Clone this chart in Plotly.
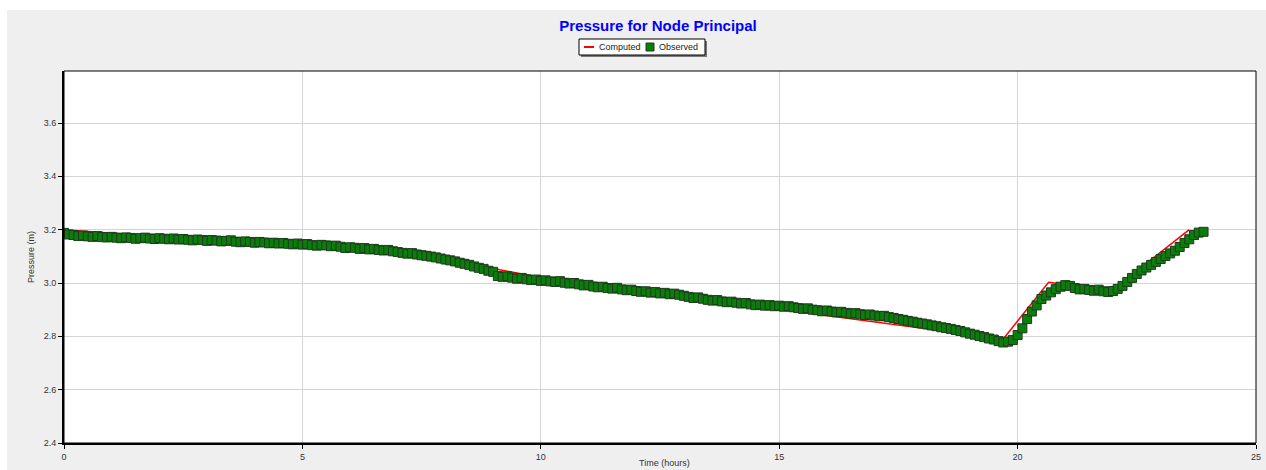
import plotly.graph_objects as go

# ---- data ----
comp_t = [0.0, 7.7, 10.0, 16.5, 19.7, 20.65, 20.85, 22.0, 23.6]
comp_p = [3.200, 3.100, 3.020, 2.865, 2.790, 3.003, 2.998, 2.975, 3.200]

obs_t = [round(i * 0.1, 1) for i in range(240)]
obs_p = [
    3.188, 3.182, 3.180, 3.176, 3.178, 3.175, 3.173, 3.176, 3.172, 3.171,
    3.173, 3.170, 3.168, 3.171, 3.169, 3.166, 3.168, 3.170, 3.167, 3.165,
    3.168, 3.166, 3.164, 3.167, 3.163, 3.165, 3.162, 3.160, 3.163, 3.161,
    3.158, 3.161, 3.159, 3.156, 3.158, 3.160, 3.155, 3.153, 3.156, 3.154,
    3.151, 3.154, 3.152, 3.149, 3.151, 3.148, 3.150, 3.147, 3.145, 3.148,
    3.144, 3.146, 3.142, 3.140, 3.143, 3.141, 3.138, 3.140, 3.136, 3.131,
    3.134, 3.132, 3.128, 3.131, 3.126, 3.128, 3.124, 3.122, 3.124, 3.119,
    3.116, 3.113, 3.110, 3.112, 3.107, 3.104, 3.102, 3.099, 3.096, 3.092,
    3.088, 3.085, 3.081, 3.076, 3.072, 3.068, 3.062, 3.057, 3.053, 3.046,
    3.042, 3.026, 3.023, 3.025, 3.020, 3.016, 3.019, 3.014, 3.011, 3.013,
    3.008, 3.010, 3.006, 3.004, 3.007, 3.001, 2.998, 3.000, 2.995, 2.991,
    2.993, 2.987, 2.984, 2.986, 2.981, 2.979, 2.982, 2.976, 2.973, 2.975,
    2.970, 2.967, 2.969, 2.964, 2.966, 2.961, 2.963, 2.958, 2.960, 2.956,
    2.952, 2.948, 2.944, 2.946, 2.941, 2.937, 2.934, 2.936, 2.931, 2.928,
    2.930, 2.926, 2.923, 2.925, 2.920, 2.917, 2.919, 2.915, 2.917, 2.913,
    2.915, 2.911, 2.913, 2.909, 2.906, 2.903, 2.905, 2.900, 2.898, 2.894,
    2.897, 2.893, 2.890, 2.892, 2.888, 2.885, 2.887, 2.883, 2.880, 2.882,
    2.878, 2.875, 2.877, 2.872, 2.869, 2.865, 2.862, 2.858, 2.855, 2.851,
    2.848, 2.845, 2.841, 2.838, 2.834, 2.831, 2.828, 2.824, 2.820, 2.815,
    2.810, 2.806, 2.801, 2.797, 2.792, 2.788, 2.782, 2.777, 2.780, 2.786,
    2.805, 2.830, 2.865, 2.893, 2.916, 2.940, 2.953, 2.965, 2.977, 2.986,
    2.992, 2.989, 2.981, 2.976, 2.978, 2.974, 2.971, 2.975, 2.969, 2.966,
    2.970, 2.978, 2.989, 3.004, 3.019, 3.034, 3.047, 3.058, 3.068, 3.079,
    3.090, 3.101, 3.111, 3.121, 3.135, 3.150, 3.164, 3.180, 3.189, 3.192,
]

x_ticks = [0, 5, 10, 15, 20, 25]
y_ticks = [2.4, 2.6, 2.8, 3.0, 3.2, 3.4, 3.6]
y_tick_text = ["2.4", "2.6", "2.8", "3.0", "3.2", "3.4", "3.6"]

# ---- layout geometry (pixels) ----
W, H = 1266, 470
L, R, T, B = 64, 1256, 71, 443
pw, ph = R - L, B - T

def px(x):
    return (x - L) / pw

def py(y):
    return (B - y) / ph

FONT = "Liberation Sans, Arial, sans-serif"

fig = go.Figure()
fig.add_trace(go.Scatter(
    x=comp_t, y=comp_p, mode="lines", name="Computed",
    line=dict(color="#ff0000", width=1.5),
))
fig.add_trace(go.Scatter(
    x=obs_t, y=obs_p, mode="markers", name="Observed",
    marker=dict(symbol="square", size=9, color="#0a7d0a",
                line=dict(color="#1f3a1f", width=1)),
))

shapes = [
    # grey panel
    dict(type="rect", xref="paper", yref="paper", layer="below",
         x0=px(7), x1=px(1266), y0=py(470), y1=py(10),
         fillcolor="#efefef", line=dict(width=0)),
    # white plot area
    dict(type="rect", xref="paper", yref="paper", layer="below",
         x0=0, x1=1, y0=0, y1=1,
         fillcolor="#ffffff", line=dict(width=0)),
    # plot frame
    dict(type="rect", xref="paper", yref="paper", layer="above",
         x0=0, x1=1, y0=0, y1=1, line=dict(color="#000000", width=1)),
    # legend shadow
    dict(type="rect", xref="paper", yref="paper", layer="above",
         x0=px(581), x1=px(707), y0=py(57), y1=py(41),
         fillcolor="#7a7a7a", line=dict(width=0)),
    # legend box
    dict(type="rect", xref="paper", yref="paper", layer="above",
         x0=px(579), x1=px(705), y0=py(55), y1=py(39),
         fillcolor="#ffffff", line=dict(color="#000000", width=1)),
    # legend: computed line sample
    dict(type="line", xref="paper", yref="paper", layer="above",
         x0=px(584), x1=px(594), y0=py(47), y1=py(47),
         line=dict(color="#ff0000", width=2)),
    # legend: observed marker sample
    dict(type="rect", xref="paper", yref="paper", layer="above",
         x0=px(646), x1=px(654), y0=py(51), y1=py(43),
         fillcolor="#0a7d0a", line=dict(color="#1f3a1f", width=1)),
]

fig.update_layout(
    width=W, height=H,
    margin=dict(l=L, r=W - R, t=T, b=H - B, pad=0),
    paper_bgcolor="#ffffff",
    plot_bgcolor="#ffffff",
    font=dict(family=FONT, size=9, color="#333333"),
    title=dict(text="<b>Pressure for Node Principal</b>",
               font=dict(family=FONT, size=15, color="#0000ff"),
               x=px(658), xref="paper", xanchor="center",
               y=1 - 26 / H, yref="container", yanchor="middle"),
    showlegend=False,
    xaxis=dict(range=[0, 25], tickvals=x_ticks, automargin=False,
               showgrid=True, gridcolor="#d4d4d4", gridwidth=1,
               zeroline=False, showline=True, linecolor="#000000", linewidth=2,
               ticks="outside", ticklen=4, tickcolor="#000000", tickwidth=1,
               tickfont=dict(family=FONT, size=9, color="#333333")),
    yaxis=dict(range=[2.4, 3.795], tickvals=y_ticks, ticktext=y_tick_text,
               automargin=False,
               showgrid=True, gridcolor="#d4d4d4", gridwidth=1,
               zeroline=False, showline=True, linecolor="#000000", linewidth=2,
               ticks="outside", ticklen=4, tickcolor="#000000", tickwidth=1,
               tickfont=dict(family=FONT, size=9, color="#333333")),
    shapes=shapes,
    annotations=[
        dict(text="Pressure (m)", xref="paper", yref="paper",
             x=px(31), y=py(257), xanchor="center", yanchor="middle",
             textangle=-90, showarrow=False,
             font=dict(family=FONT, size=9, color="#333333")),
        dict(text="Time (hours)", xref="paper", yref="paper",
             x=px(664), y=py(463), xanchor="center", yanchor="middle",
             showarrow=False,
             font=dict(family=FONT, size=9, color="#333333")),
        dict(text="Computed", xref="paper", yref="paper",
             x=px(597), y=py(47), xanchor="left", yanchor="middle",
             showarrow=False,
             font=dict(family=FONT, size=9, color="#222222")),
        dict(text="Observed", xref="paper", yref="paper",
             x=px(657), y=py(47), xanchor="left", yanchor="middle",
             showarrow=False,
             font=dict(family=FONT, size=9, color="#222222")),
    ],
)

fig.write_html("out.html")
